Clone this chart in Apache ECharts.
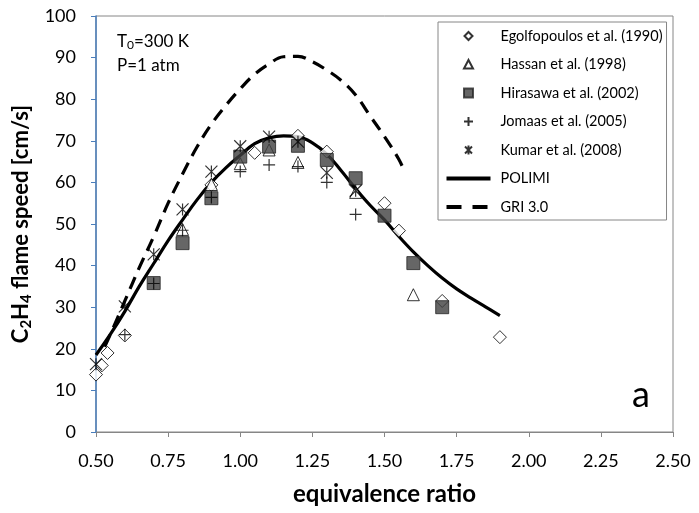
<!DOCTYPE html>
<html><head><meta charset="utf-8">
<script src="https://cdn.jsdelivr.net/npm/echarts@6/dist/echarts.min.js"></script>
<style>html,body{margin:0;padding:0;background:#fff}#c{width:699px;height:513px}</style>
</head><body><div id="c"></div>
<script>
const FONT = 'Lato, sans-serif';
const xTicks = [0.5, 2.5, 0.25];
const yTicks = [0, 100, 10];

const egolfX = [0.50,0.52,0.54,0.60,0.90,1.05,1.20,1.30,1.50,1.55,1.70,1.90];
const egolfY = [13.8,16.0,19.0,23.2,59.4,67.1,71.2,67.4,55.0,48.4,31.5,22.8];
const hassanX = [0.8,0.9,1.0,1.1,1.2,1.4,1.6];
const hassanY = [48.7,59.5,64.5,67.8,64.8,57.6,33.0];
const hiraX = [0.7,0.8,0.9,1.0,1.1,1.2,1.3,1.4,1.5,1.6,1.7];
const hiraY = [35.8,45.4,56.2,66.2,68.6,68.8,65.4,61.0,52.0,40.6,30.0];
const jomaasX = [0.6,0.7,0.8,0.9,1.0,1.1,1.2,1.3,1.4];
const jomaasY = [23.4,35.7,48.5,56.4,62.6,64.2,63.8,60.0,52.3];
const kumarX = [0.5,0.6,0.7,0.8,0.9,1.0,1.1,1.2,1.3,1.4];
const kumarY = [16.3,30.2,42.7,53.5,62.6,68.7,71.0,69.8,62.3,58.0];
const polimiX = [0.5,0.55,0.6,0.65,0.7,0.75,0.8,0.85,0.9,0.95,1.0,1.05,1.1,1.15,1.2,1.25,1.3,1.35,1.4,1.45,1.5,1.55,1.6,1.65,1.7,1.75,1.8,1.85,1.9];
const polimiY = [18.5,23.5,29.0,35.0,40.5,46.0,51.0,55.8,60.0,63.5,66.5,69.3,70.7,71.2,71.0,69.5,66.8,62.8,58.5,54.5,51.0,47.0,43.3,40.0,37.0,34.4,32.2,30.1,28.0];
const griX = [0.53,0.55,0.6,0.65,0.7,0.75,0.8,0.85,0.9,0.95,1.0,1.05,1.1,1.15,1.2,1.25,1.3,1.35,1.4,1.45,1.5,1.55,1.57];
const griY = [20.5,23.5,31.5,39.5,47.0,55.0,62.0,68.5,74.0,78.5,82.5,86.0,88.5,90.2,90.3,89.0,87.0,84.5,81.0,76.0,71.0,65.5,62.5];
const names = ['Egolfopoulos et al. (1990)','Hassan et al. (1998)','Hirasawa et al. (2002)','Jomaas et al. (2005)','Kumar et al. (2008)','POLIMI','GRI 3.0'];

const pairs = (xs, ys) => xs.map((x, i) => [x, ys[i]]);
const PLUS = 'path://M5,0L5,10M0,5L10,5';
const STAR = 'path://M0,0L10,10M10,0L0,10M5,0L5,10';
// legend icons: the leading moves fix the 44x10 box so the mark stays small and centred
const BOX = 'path://M0,0M44,10';
const legendIcons = [
  BOX + 'M22,1L26,5L22,9L18,5Z',
  BOX + 'M22,0.5L26.5,9L17.5,9Z',
  BOX + 'M17.5,0.5L26.5,0.5L26.5,9.5L17.5,9.5Z',
  BOX + 'M22,0.5L22,9.5M17.5,5L26.5,5',
  BOX + 'M18.5,1.5L25.5,8.5M25.5,1.5L18.5,8.5M22,0.5L22,9.5'
];

const chart = echarts.init(document.getElementById('c'), null, {renderer: 'canvas'});
chart.setOption({
  animation: false,
  backgroundColor: '#fff',
  grid: {left: 96, right: 26, top: 16, bottom: 81, show: true, borderColor: '#868686', borderWidth: 1},
  xAxis: {
    type: 'value', min: xTicks[0], max: xTicks[1], interval: xTicks[2],
    name: 'equivalence ratio', nameLocation: 'middle', nameGap: 50,
    nameTextStyle: {fontFamily: FONT, fontSize: 24, fontWeight: 'bold', color: '#000'},
    axisLine: {onZero: false, lineStyle: {color: '#868686', width: 1}},
    axisTick: {show: true, length: 5, lineStyle: {color: '#868686'}},
    axisLabel: {fontFamily: FONT, fontSize: 18, color: '#000', margin: 20, formatter: v => v.toFixed(2)},
    splitLine: {show: false}
  },
  yAxis: {
    type: 'value', min: yTicks[0], max: yTicks[1], interval: yTicks[2],
    name: '{b|C}{s|2}{b|H}{s|4}{b| flame speed [cm/s]}', nameLocation: 'middle', nameGap: 56,
    nameTextStyle: {rich: {
      b: {fontFamily: FONT, fontSize: 22, fontWeight: 'bold', color: '#000', lineHeight: 26, verticalAlign: 'middle'},
      s: {fontFamily: FONT, fontSize: 15, fontWeight: 'bold', color: '#000', lineHeight: 13, verticalAlign: 'bottom'}
    }},
    axisLine: {onZero: false, lineStyle: {color: '#4a7ebb', width: 1.5}},
    axisTick: {show: true, length: 5, lineStyle: {color: '#4a7ebb'}},
    axisLabel: {fontFamily: FONT, fontSize: 18, color: '#000', margin: 20},
    splitLine: {show: false}
  },
  legend: {
    orient: 'vertical', left: 438, top: 22,
    padding: [6, 4, 5, 6],
    itemWidth: 44, itemHeight: 10, itemGap: 12.5,
    borderColor: '#868686', borderWidth: 1, backgroundColor: '#fff',
    textStyle: {fontFamily: FONT, fontSize: 14.5, color: '#000', lineHeight: 16, padding: [0, 0, 0, 5]},
    data: [
      {name: names[0], icon: legendIcons[0]},
      {name: names[1], icon: legendIcons[1]},
      {name: names[2], icon: legendIcons[2]},
      {name: names[3], icon: legendIcons[3]},
      {name: names[4], icon: legendIcons[4]},
      {name: names[5], itemStyle: {opacity: 0}, lineStyle: {width: 4}},
      {name: names[6], itemStyle: {opacity: 0}, lineStyle: {width: 4, type: [15, 11]}}
    ]
  },
  graphic: [
    {type: 'text', left: 117, top: 33, style: {
      text: '{n|T}{s|0}{n|=300 K}', rich: {
        n: {fontFamily: FONT, fontSize: 17, fill: '#000', lineHeight: 20, verticalAlign: 'middle'},
        s: {fontFamily: FONT, fontSize: 12, fill: '#000', lineHeight: 11, verticalAlign: 'bottom'}
      }}},
    {type: 'text', left: 117, top: 57, style: {text: 'P=1 atm', font: '17px ' + FONT, fill: '#000'}},
    {type: 'text', left: 632, top: 377, style: {text: 'a', font: '36px ' + FONT, fill: '#000'}}
  ],
  series: [
    {name: names[5], type: 'line', data: pairs(polimiX, polimiY), symbol: 'none', smooth: 0.4,
     lineStyle: {color: '#000', width: 3.2}, itemStyle: {color: '#000'}, z: 2},
    {name: names[6], type: 'line', data: pairs(griX, griY), symbol: 'none', smooth: 0.4,
     lineStyle: {color: '#000', width: 3.2, type: [13, 8]}, itemStyle: {color: '#000'}, z: 2},
    {name: names[0], type: 'scatter', data: pairs(egolfX, egolfY), symbol: 'diamond', symbolSize: 13,
     itemStyle: {color: '#fff', borderColor: '#000', borderWidth: 1}, z: 3},
    {name: names[1], type: 'scatter', data: pairs(hassanX, hassanY), symbol: 'triangle', symbolSize: 12,
     itemStyle: {color: '#fff', borderColor: '#000', borderWidth: 1}, z: 3},
    {name: names[2], type: 'scatter', data: pairs(hiraX, hiraY), symbol: 'rect', symbolSize: 13,
     itemStyle: {color: '#404040', borderColor: '#262626', borderWidth: 1}, z: 3},
    {name: names[3], type: 'scatter', data: pairs(jomaasX, jomaasY), symbol: PLUS, symbolSize: 12,
     itemStyle: {color: 'none', borderColor: '#000', borderWidth: 1.2}, z: 3},
    {name: names[4], type: 'scatter', data: pairs(kumarX, kumarY), symbol: STAR, symbolSize: 12,
     itemStyle: {color: 'none', borderColor: '#000', borderWidth: 1.2}, z: 3}
  ]
});
</script></body></html>
